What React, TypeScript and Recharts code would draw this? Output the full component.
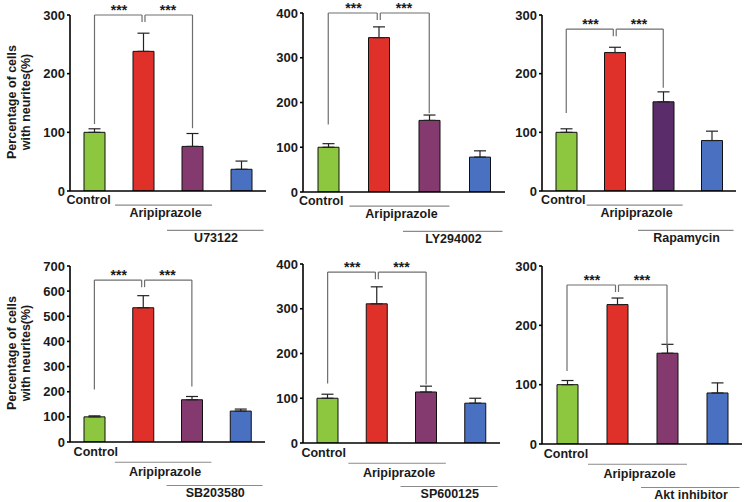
import React from "react";
import {
  Bar,
  BarChart,
  Cell,
  ErrorBar,
  ReferenceDot,
  ReferenceLine,
  XAxis,
  YAxis,
} from "recharts";

// categories along the x axis (one bar each)
const groups = ["Control", "Aripiprazole", "Inhibitor + Aripiprazole", "Inhibitor"];
const groupPositions = [0.5, 1.5, 2.5, 3.5];

// inhibitor names, one per panel
const inhibitors = ["U73122", "LY294002", "Rapamycin", "SB203580", "SP600125", "Akt inhibitor"];

// bar heights (%) and upper error bars
const u73122Values = [100, 238, 76, 37];
const u73122Errors = [6, 31, 22, 14];
const ly294002Values = [100, 345, 160, 78];
const ly294002Errors = [8, 24, 12, 14];
const rapamycinValues = [100, 236, 152, 86];
const rapamycinErrors = [6, 9, 17, 16];
const sb203580Values = [100, 534, 168, 123];
const sb203580Errors = [4, 48, 13, 8];
const sp600125Values = [100, 311, 114, 89];
const sp600125Errors = [9, 38, 13, 11];
const aktValues = [100, 235, 153, 86];
const aktErrors = [7, 11, 15, 17];

// y tick labels
const ticks300 = [0, 100, 200, 300];
const ticks400 = [0, 100, 200, 300, 400];
const ticks700 = [0, 100, 200, 300, 400, 500, 600, 700];

// significance brackets: [bracket top, left leg end, right leg end]
const u73122Bracket = [300, 114, 107];
const ly294002Bracket = [400, 151, 176];
const rapamycinBracket = [276, 133, 176];
const sb203580Bracket = [644, 209, 221];
const sp600125Bracket = [382, 133, 131];
const aktBracket = [268, 123, 162];

const FONT = "'Liberation Sans', Arial, sans-serif";
const GREEN = "#8dc63f";
const RED = "#e0302a";
const PURPLE = "#843a6e";
const DARK_PURPLE = "#5a2c6a";
const BLUE = "#4a70c2";

// pixel offsets below the x axis for the group annotations, per row
const rowOffsets = [
  { ctrl: 8, ariLine: 14, ariText: 21, inhLine: 39, inhText: 46 },
  { ctrl: 9, ariLine: 20, ariText: 29, inhLine: 43, inhText: 50 },
];

interface PanelSpec {
  values: number[];
  errors: number[];
  ticks: number[];
  bracket: number[];
  inhibitor: string;
  purple: string;
  plotX: number;
  plotY: number;
  w: number;
  h: number;
  row: number;
  showLabel: boolean;
  ctrlX: number;
}

const panels: PanelSpec[] = [
  { values: u73122Values, errors: u73122Errors, ticks: ticks300, bracket: u73122Bracket, inhibitor: inhibitors[0], purple: PURPLE, plotX: 70, plotY: 15, w: 196, h: 174, row: 0, showLabel: true, ctrlX: 0.38 },
  { values: ly294002Values, errors: ly294002Errors, ticks: ticks400, bracket: ly294002Bracket, inhibitor: inhibitors[1], purple: PURPLE, plotX: 303, plotY: 13, w: 202, h: 177, row: 0, showLabel: false, ctrlX: 0.36 },
  { values: rapamycinValues, errors: rapamycinErrors, ticks: ticks300, bracket: rapamycinBracket, inhibitor: inhibitors[2], purple: DARK_PURPLE, plotX: 542, plotY: 15, w: 194, h: 174, row: 0, showLabel: false, ctrlX: 0.44 },
  { values: sb203580Values, errors: sb203580Errors, ticks: ticks700, bracket: sb203580Bracket, inhibitor: inhibitors[3], purple: PURPLE, plotX: 70, plotY: 266, w: 195, h: 174, row: 1, showLabel: true, ctrlX: 0.53 },
  { values: sp600125Values, errors: sp600125Errors, ticks: ticks400, bracket: sp600125Bracket, inhibitor: inhibitors[4], purple: PURPLE, plotX: 303, plotY: 264, w: 197, h: 177, row: 1, showLabel: false, ctrlX: 0.42 },
  { values: aktValues, errors: aktErrors, ticks: ticks300, bracket: aktBracket, inhibitor: inhibitors[5], purple: PURPLE, plotX: 542, plotY: 266, w: 200, h: 176, row: 1, showLabel: false, ctrlX: 0.48 },
];

const textStyle = { fontFamily: FONT, fontWeight: "bold" as const, fill: "#1a1a1a" };

function textLabel(value: string, size = 12.5) {
  return { value, position: "center" as const, fontSize: size, ...textStyle };
}

function Panel({ spec }: { spec: PanelSpec }) {
  const { values, errors, ticks, bracket, inhibitor, purple, plotX, plotY, w, h, row, showLabel, ctrlX } = spec;
  const yMax = ticks[ticks.length - 1];
  const toVal = (px: number) => (px * yMax) / h;
  const off = rowOffsets[row];
  const colors = [GREEN, RED, purple, BLUE];

  const data = groups.map((g, i) => ({
    name: g,
    x: groupPositions[i],
    value: values[i],
    err: [0, errors[i]],
  }));

  const [top, leftEnd, rightEnd] = bracket;
  const drop = toVal(7);
  const gray = "#6e6e6e";
  const seg = (x1: number, y1: number, x2: number, y2: number, key: string, color = gray) => (
    <ReferenceLine
      key={key}
      segment={[{ x: x1, y: y1 }, { x: x2, y: y2 }]}
      stroke={color}
      strokeWidth={1.2}
      ifOverflow="visible"
    />
  );

  const labelCenterY = 15 + h / 2;

  return (
    <div style={{ position: "absolute", left: plotX - 70, top: plotY - 15 }}>
      <BarChart
        width={70 + w + 8}
        height={15 + h + 66}
        data={data}
        margin={{ top: 15, right: 8, bottom: 64, left: 36 }}
      >
        <XAxis
          dataKey="x"
          type="number"
          domain={[0, 4]}
          ticks={[1, 2, 3]}
          allowDataOverflow
          height={2}
          tick={false}
          mirror
          tickSize={3}
          axisLine={{ stroke: "#000", strokeWidth: 1.6 }}
          tickLine={{ stroke: "#000", strokeWidth: 1.6 }}
        />
        <YAxis
          type="number"
          domain={[0, yMax]}
          ticks={ticks}
          allowDataOverflow
          width={34}
          tickSize={3}
          interval={0}
          axisLine={{ stroke: "#000", strokeWidth: 1.6 }}
          tickLine={{ stroke: "#000", strokeWidth: 1.6 }}
          tick={{ fontSize: 13, ...textStyle }}
          label={
            showLabel
              ? {
                  content: () => (
                    <text
                      transform={`translate(16,${labelCenterY}) rotate(-90)`}
                      textAnchor="middle"
                      fontSize={12.5}
                      fontFamily={FONT}
                      fontWeight="bold"
                      fill="#1a1a1a"
                    >
                      <tspan x={0} dy={0}>Percentage of cells</tspan>
                      <tspan x={0} dy={14}>with neurites(%)</tspan>
                    </text>
                  ),
                }
              : undefined
          }
        />
        <Bar dataKey="value" barSize={21} stroke="#111" strokeWidth={1} isAnimationActive={false}>
          {data.map((d, i) => (
            <Cell key={d.name} fill={colors[i]} />
          ))}
          <ErrorBar dataKey="err" width={6} stroke="#222" strokeWidth={1.2} direction="y" isAnimationActive={false} />
        </Bar>

        {/* significance brackets */}
        {seg(0.5, leftEnd, 0.5, top, "l1")}
        {seg(0.5, top, 1.47, top, "l2")}
        {seg(1.47, top, 1.47, top - drop, "l3")}
        {seg(1.53, top - drop, 1.53, top, "r1")}
        {seg(1.53, top, 2.5, top, "r2")}
        {seg(2.5, top, 2.5, rightEnd, "r3")}
        <ReferenceDot
          x={1}
          y={top}
          r={0}
          fill="none"
          stroke="none"
          ifOverflow="visible"
          label={{ value: "***", position: "top", offset: 0, fontSize: 14, ...textStyle }}
        />
        <ReferenceDot
          x={2}
          y={top}
          r={0}
          fill="none"
          stroke="none"
          ifOverflow="visible"
          label={{ value: "***", position: "top", offset: 0, fontSize: 14, ...textStyle }}
        />

        {/* treatment annotations under the axis */}
        <ReferenceDot x={ctrlX} y={-toVal(off.ctrl)} r={0} fill="none" stroke="none" ifOverflow="visible" label={textLabel(groups[0])} />
        {seg(0.92, -toVal(off.ariLine), 2.9, -toVal(off.ariLine), "ari", "#8a8a8a")}
        <ReferenceDot x={1.95} y={-toVal(off.ariText)} r={0} fill="none" stroke="none" ifOverflow="visible" label={textLabel(groups[1])} />
        {seg(1.98, -toVal(off.inhLine), 3.95, -toVal(off.inhLine), "inh", "#8a8a8a")}
        <ReferenceDot x={2.98} y={-toVal(off.inhText)} r={0} fill="none" stroke="none" ifOverflow="visible" label={textLabel(inhibitor)} />
      </BarChart>
    </div>
  );
}

export default function App() {
  return (
    <div
      style={{
        position: "absolute",
        left: 0,
        top: 0,
        width: 746,
        height: 502,
        background: "#fff",
        overflow: "hidden",
      }}
    >
      {panels.map((p) => (
        <Panel key={p.inhibitor} spec={p} />
      ))}
    </div>
  );
}
